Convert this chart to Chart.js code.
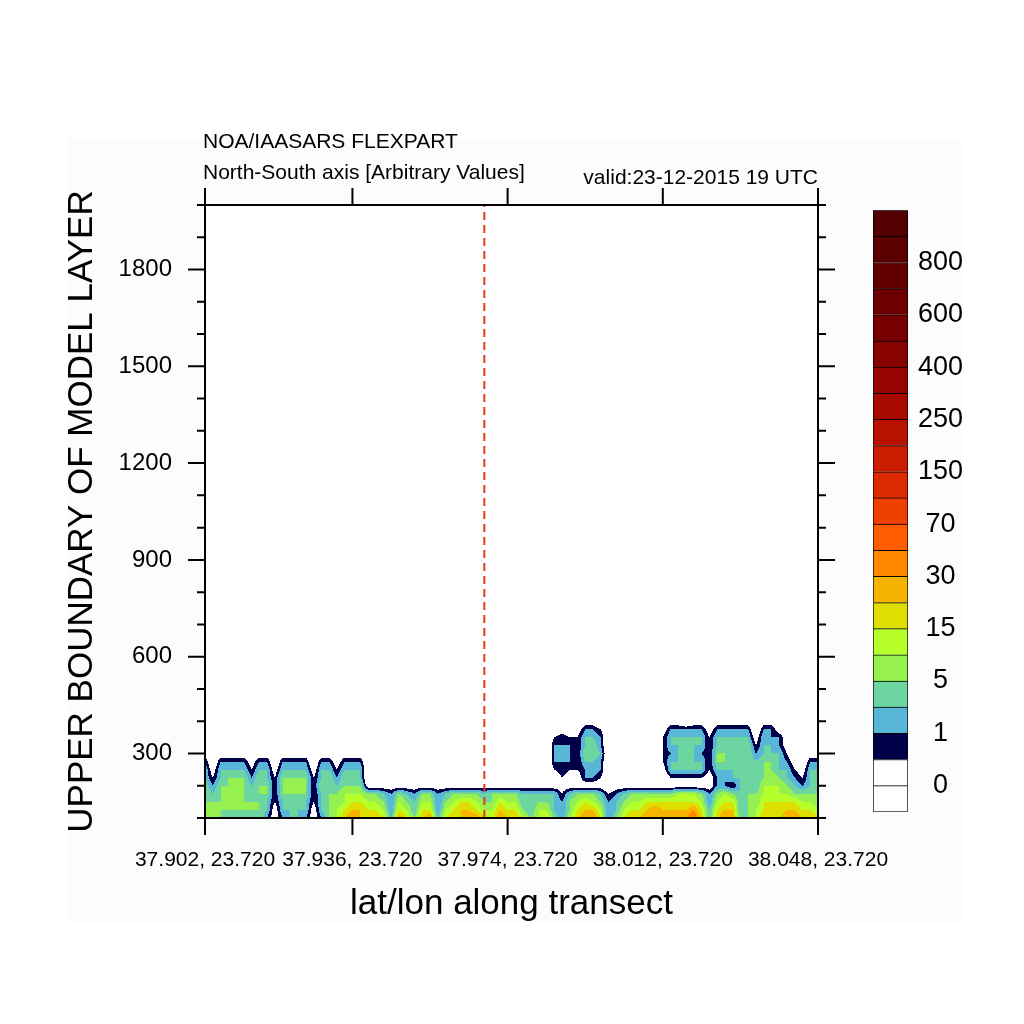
<!DOCTYPE html>
<html>
<head>
<meta charset="utf-8">
<script src="https://cdn.jsdelivr.net/npm/chart.js@4.4.1/dist/chart.umd.min.js"></script>
<style>
  html, body { margin: 0; padding: 0; background: #fff; }
  #wrap { position: relative; width: 1024px; height: 1024px; }
  #plot { position: absolute; left: 0; top: 0; }
  #bar { position: absolute; left: 860px; top: 192px; }
</style>
</head>
<body>
<div id="wrap">
  <canvas id="plot" width="1024" height="1024"></canvas>
  <canvas id="bar" width="130" height="638"></canvas>
</div>
<script>
// transect points 0..79, labelled every ~20 points
const xTickIdx = [0, 19, 39, 59, 79];
const xTickLabels = ['37.902, 23.720', '37.936, 23.720', '37.974, 23.720', '38.012, 23.720', '38.048, 23.720'];
const releaseIdx = 36;
const yMin = 100, yMax = 2000;

// grid rows: upper boundary of model layer
const heights = [100, 125, 150, 175, 200, 225, 250, 275, 300, 325, 350, 375, 400];

// contour class at each grid point, one char per transect point (0..9, a = 10)
const row100 = '5554444531' + '3443135689' + '8887497589' + '4788997798' + '8656753689' + '9735788999' + '999a848994' + '5688899887';
const row125 = '5555555541' + '4444145678' + '8776376477' + '3678876687' + '7546643578' + '8634677898' + '8889747884' + '5678788776';
const row150 = '5555555542' + '4444245567' + '7665365466' + '3567765576' + '6445543567' + '6534566777' + '7777636774' + '5577777665';
const row175 = '5455554552' + '5555245566' + '6554354355' + '3455554555' + '5444442455' + '5423455555' + '5666535654' + '5566665555';
const row200 = '5355654552' + '5565255455' + '5111111111' + '1111111111' + '1111111111' + '1101111111' + '1111113324' + '5466654344';
const row225 = '4245553542' + '5555245354' + '4000000000' + '0000000000' + '0000002113' + '3200000000' + '2222213344' + '5456543244';
const row250 = '4144442441' + '4444144244' + '4000000000' + '0000000000' + '0000023223' + '4300000001' + '4444424444' + '5455442144';
const row275 = '3033331330' + '3333033133' + '3000000000' + '0000000000' + '0000033324' + '4300000002' + '4444425544' + '5455431033';
const row300 = '1011110110' + '1111011011' + '1000000000' + '0000000000' + '0000033325' + '5400000002' + '3444325544' + '5344420011';
const row325 = '0000000000' + '0000000000' + '0000000000' + '0000000000' + '0000033324' + '5300000002' + '4444424544' + '5244310000';
const row350 = '0000000000' + '0000000000' + '0000000000' + '0000000000' + '0000023224' + '4300000002' + '4444424444' + '4143310000';
const row375 = '0000000000' + '0000000000' + '0000000000' + '0000000000' + '0000001013' + '3200000001' + '3333313333' + '3033100000';
const row400 = '0000000000' + '0000000000' + '0000000000' + '0000000000' + '0000000001' + '1000000000' + '1101101111' + '1011000000';

// colour bar: 23 boxes, labels on every second box edge
const levelColors = ['#ffffff', '#ffffff', '#000048', '#58b6d6', '#6dd6a0', '#96f050', '#b6ff28', '#dede00',
  '#f6b400', '#ff8800', '#ff5c00', '#f04000', '#de2a00', '#cc1c00', '#ba1200', '#a80a00', '#980500',
  '#880200', '#780000', '#6c0000', '#620000', '#5a0000', '#520000'];
const levelLabels = ['0', '1', '5', '15', '30', '70', '150', '250', '400', '600', '800'];
const levelLabelAt = [1, 3, 5, 7, 9, 11, 13, 15, 17, 19, 21];

const grid = [row100, row125, row150, row175, row200, row225, row250, row275, row300,
  row325, row350, row375, row400].map(s => Array.from(s, ch => parseInt(ch, 36)));

Chart.defaults.font.family = '"Liberation Sans", Arial, sans-serif';
Chart.defaults.color = '#000';

function hexRgb(h) {
  return [parseInt(h.slice(1, 3), 16), parseInt(h.slice(3, 5), 16), parseInt(h.slice(5, 7), 16)];
}

// filled contours: bilinear between grid points, coloured by class
const fieldPlugin = {
  id: 'field',
  beforeDatasetsDraw(chart) {
    const {ctx, chartArea: a, scales: {x, y}} = chart;
    const left = Math.round(a.left), top = Math.round(a.top);
    const w = Math.round(a.right) - left, h = Math.round(a.bottom) - top;
    const img = ctx.createImageData(w, h);
    const rgb = levelColors.map(hexRgb);
    const nCol = grid[0].length;
    for (let py = 0; py < h; py++) {
      const hv = y.getValueForPixel(top + py + 0.5);
      let j = 0;
      while (j < heights.length - 2 && hv > heights[j + 1]) j++;
      let fy = (hv - heights[j]) / (heights[j + 1] - heights[j]);
      fy = Math.max(0, Math.min(1, fy));
      const r0 = grid[j], r1 = grid[j + 1];
      for (let px = 0; px < w; px++) {
        const xv = Math.max(0, Math.min(nCol - 1, x.getValueForPixel(left + px + 0.5)));
        const i = Math.min(nCol - 2, Math.floor(xv));
        const fx = xv - i;
        const v = (r0[i] * (1 - fx) + r0[i + 1] * fx) * (1 - fy) + (r1[i] * (1 - fx) + r1[i + 1] * fx) * fy;
        const c = rgb[Math.max(0, Math.min(levelColors.length - 1, Math.floor(v + 1e-9)))];
        const k = (py * w + px) * 4;
        img.data[k] = c[0]; img.data[k + 1] = c[1]; img.data[k + 2] = c[2]; img.data[k + 3] = 255;
      }
    }
    ctx.putImageData(img, left, top);
  }
};

// frame, outward ticks and header texts
const framePlugin = {
  id: 'frame',
  beforeDraw(chart) {
    const {ctx} = chart;
    ctx.save();
    ctx.fillStyle = '#ffffff';
    ctx.fillRect(0, 0, chart.width, chart.height);
    ctx.fillStyle = '#fcfcfc';
    ctx.fillRect(68, 138, 894, 784);
    ctx.restore();
  },
  afterDraw(chart) {
    const {ctx, chartArea: a, scales: {x, y}} = chart;
    ctx.save();
    ctx.strokeStyle = '#000';
    ctx.lineWidth = 2;
    ctx.beginPath();
    x.ticks.forEach(t => {
      const p = x.getPixelForValue(t.value);
      ctx.moveTo(p, a.bottom); ctx.lineTo(p, a.bottom + 17);
      ctx.moveTo(p, a.top); ctx.lineTo(p, a.top - 17);
    });
    y.ticks.forEach(t => {
      const p = y.getPixelForValue(t.value);
      const len = t.value % 300 === 0 ? 17 : 8;
      ctx.moveTo(a.left, p); ctx.lineTo(a.left - len, p);
      ctx.moveTo(a.right, p); ctx.lineTo(a.right + len, p);
    });
    ctx.stroke();
    ctx.strokeRect(a.left, a.top, a.right - a.left, a.bottom - a.top);

    ctx.fillStyle = '#000';
    ctx.font = '21px "Liberation Sans", Arial, sans-serif';
    ctx.textBaseline = 'middle';
    ctx.textAlign = 'left';
    ctx.fillText('NOA/IAASARS FLEXPART', a.left - 2, a.top - 63);
    ctx.fillText('North-South axis [Arbitrary Values]', a.left - 2, a.top - 32);
    ctx.textAlign = 'right';
    ctx.fillText('valid:23-12-2015 19 UTC', a.right, a.top - 27);
    ctx.restore();
  }
};

new Chart(document.getElementById('plot'), {
  type: 'scatter',
  data: {
    datasets: [{
      data: [{x: releaseIdx, y: yMin}, {x: releaseIdx, y: yMax}],
      showLine: true,
      borderColor: '#e63a1c',
      borderWidth: 2,
      borderDash: [8, 5],
      pointRadius: 0
    }]
  },
  options: {
    responsive: false,
    animation: false,
    devicePixelRatio: 1,
    layout: { padding: { left: 0, top: 205, right: 206, bottom: 0 } },
    plugins: { legend: { display: false }, tooltip: { enabled: false } },
    scales: {
      x: {
        type: 'linear', min: 0, max: xTickIdx[xTickIdx.length - 1],
        grid: { display: false }, border: { display: false },
        afterBuildTicks: s => { s.ticks = xTickIdx.map(v => ({ value: v })); },
        afterFit: s => { s.height = 206; },
        ticks: {
          autoSkip: false, maxRotation: 0, padding: 22,
          font: { size: 21 },
          callback: v => xTickLabels[xTickIdx.indexOf(v)]
        },
        title: { display: true, text: 'lat/lon along transect', font: { size: 35 }, padding: { top: 0, bottom: 99 } }
      },
      y: {
        type: 'linear', min: yMin, max: yMax,
        grid: { display: false }, border: { display: false },
        afterFit: s => { s.width = 205; },
        ticks: {
          stepSize: 100, autoSkip: false, padding: 25,
          font: { size: 24 },
          callback: v => (v % 300 === 0 ? String(v) : '')
        },
        title: { display: true, text: 'UPPER BOUNDARY OF MODEL LAYER', font: { size: 35 }, padding: { top: 61, bottom: 0 } }
      }
    }
  },
  plugins: [fieldPlugin, framePlugin]
});

// colour bar as a stacked bar
new Chart(document.getElementById('bar'), {
  type: 'bar',
  data: {
    labels: [''],
    datasets: levelColors.map((c, k) => ({
      data: [1],
      backgroundColor: c,
      borderColor: '#000',
      borderWidth: { top: 1, left: 1, right: 1, bottom: k === 0 ? 1 : 0 },
      borderSkipped: false,
      barPercentage: 1,
      categoryPercentage: 1
    }))
  },
  options: {
    responsive: false,
    animation: false,
    devicePixelRatio: 1,
    layout: { padding: { left: 13, top: 12, right: 0, bottom: 7 } },
    plugins: { legend: { display: false }, tooltip: { enabled: false } },
    scales: {
      x: { display: false, stacked: true },
      y: {
        stacked: true, position: 'right', min: 0, max: levelColors.length,
        grid: { display: false }, border: { display: false },
        afterFit: s => { s.width = 82; },
        afterBuildTicks: s => { s.ticks = levelLabelAt.map(v => ({ value: v })); },
        ticks: {
          autoSkip: false, padding: 2, crossAlign: 'center',
          font: { size: 27 },
          callback: v => levelLabels[levelLabelAt.indexOf(v)]
        }
      }
    }
  }
});
</script>
</body>
</html>
